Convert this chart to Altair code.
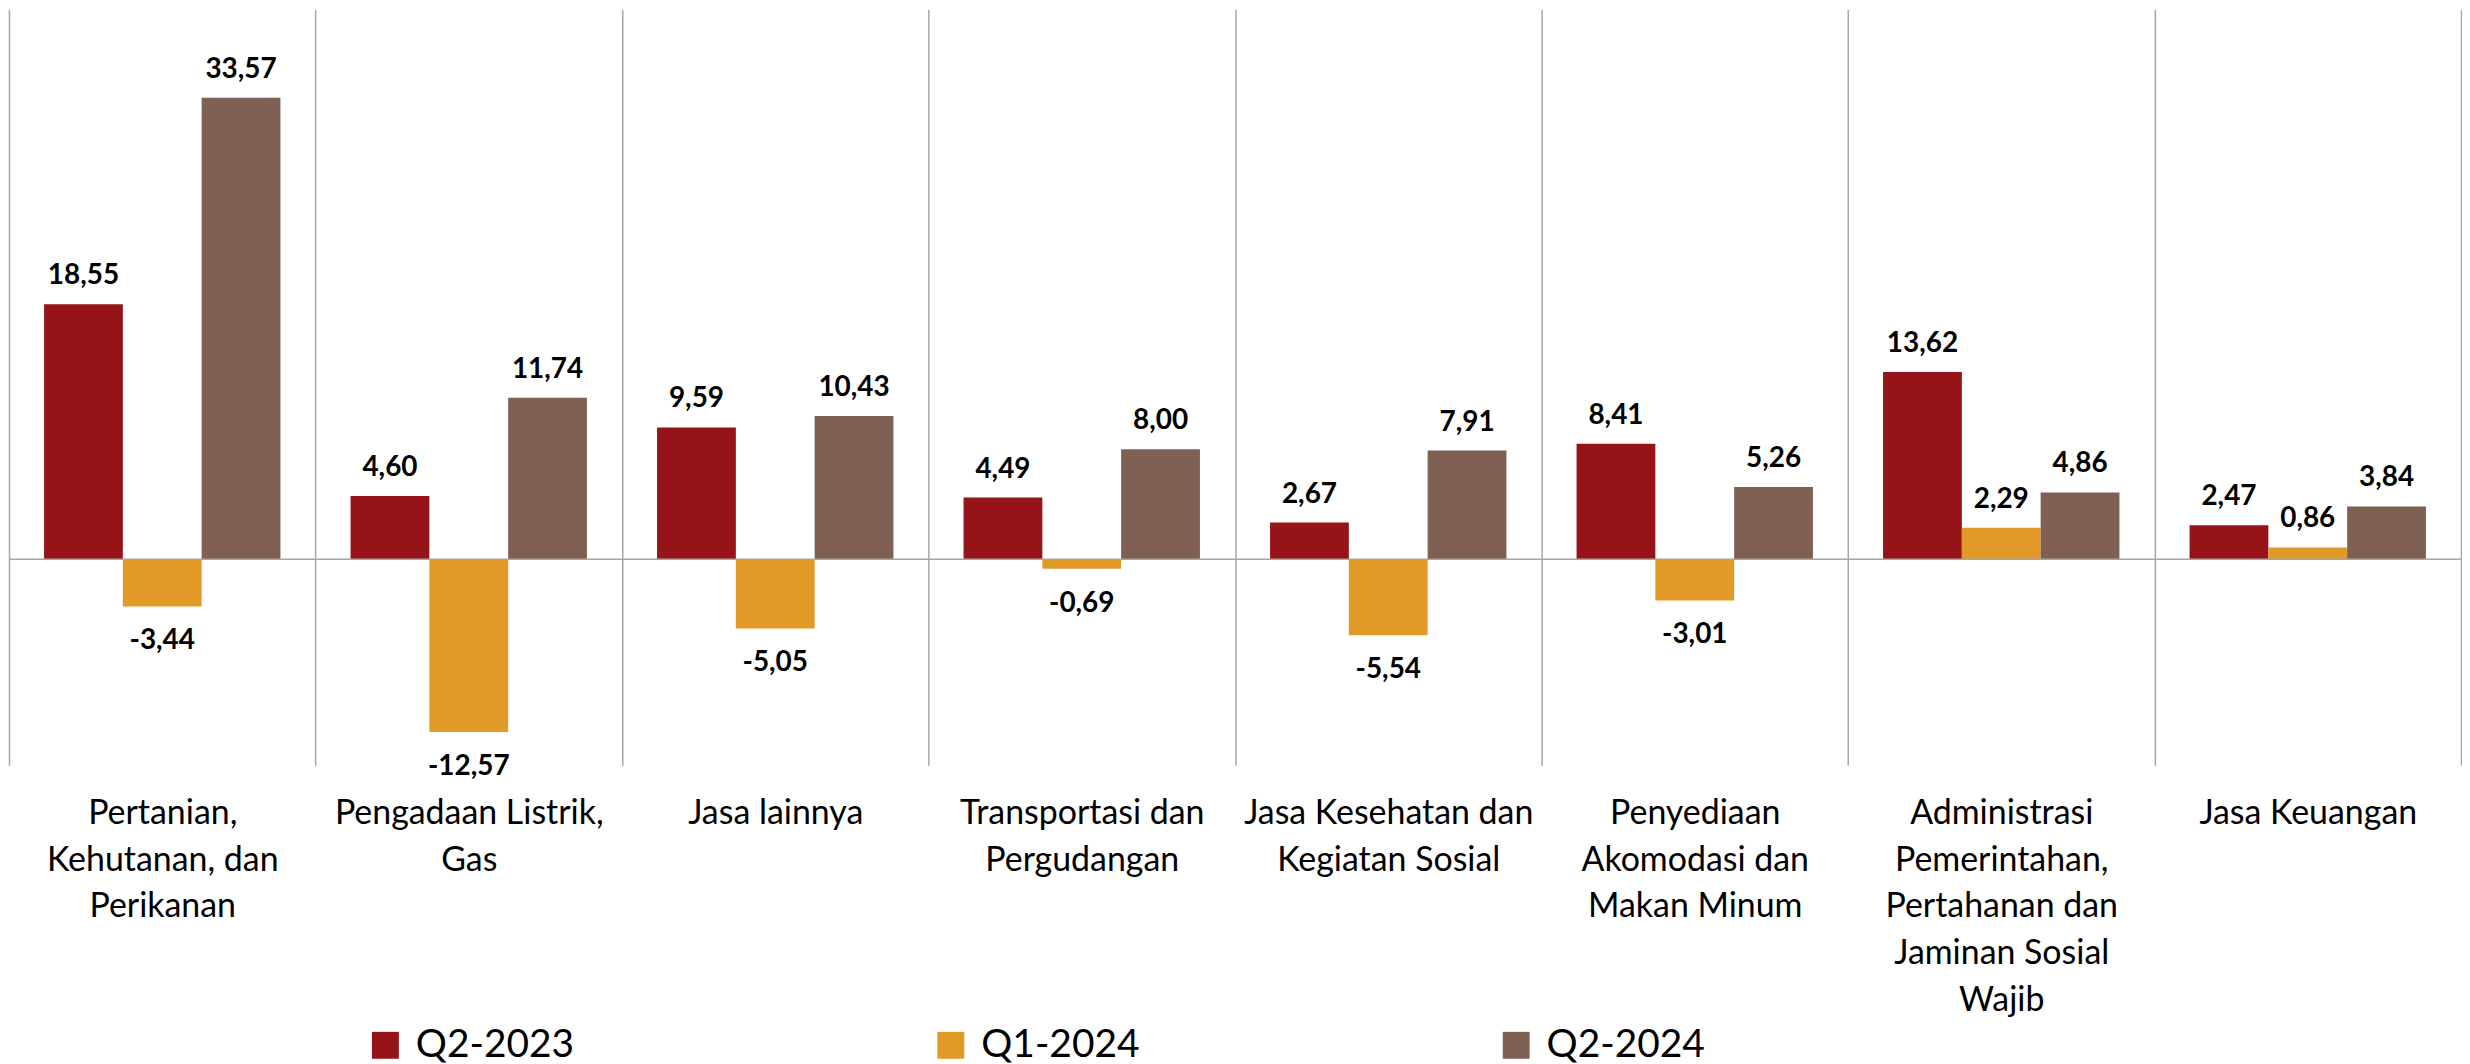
import altair as alt
import pandas as pd

categories = [
    "Pertanian,|Kehutanan, dan|Perikanan",
    "Pengadaan Listrik,|Gas",
    "Jasa lainnya",
    "Transportasi dan|Pergudangan",
    "Jasa Kesehatan dan|Kegiatan Sosial",
    "Penyediaan|Akomodasi dan|Makan Minum",
    "Administrasi|Pemerintahan,|Pertahanan dan|Jaminan Sosial|Wajib",
    "Jasa Keuangan",
]
series = ["Q2-2023", "Q1-2024", "Q2-2024"]
q2_2023 = [18.55, 4.60, 9.59, 4.49, 2.67, 8.41, 13.62, 2.47]
q1_2024 = [-3.44, -12.57, -5.05, -0.69, -5.54, -3.01, 2.29, 0.86]
q2_2024 = [33.57, 11.74, 10.43, 8.00, 7.91, 5.26, 4.86, 3.84]
colors = ["#961418", "#E19A28", "#7F6052"]

rows = []
for s, vals in zip(series, [q2_2023, q1_2024, q2_2024]):
    for c, v in zip(categories, vals):
        rows.append({"cat": c, "series": s, "value": v})
df = pd.DataFrame(rows)

FONT = "Lato"

x_enc = alt.X(
    "cat:N",
    sort=categories,
    scale=alt.Scale(paddingInner=0, paddingOuter=0),
    axis=alt.Axis(
        title=None,
        labelExpr="split(datum.label, '|')",
        grid=True,
        tickBand="extent",
        gridColor="#a6a6a6",
        gridWidth=1.5,
        domain=False,
        ticks=False,
        tickSize=0,
        labelPadding=31,
        labelFontSize=34,
        labelLineHeight=47,
        labelLimit=400,
        labelFont=FONT,
        labelColor="black",
        labelAngle=0,
        labelOverlap=False,
        labelBaseline="top",
    ),
)
xoff_enc = alt.XOffset(
    "series:N", sort=series, scale=alt.Scale(paddingInner=0, paddingOuter=0.445)
)
y_enc = alt.Y(
    "value:Q", scale=alt.Scale(domain=[-15, 40], nice=False, zero=False), axis=None
)

base = alt.Chart(df).encode(x=x_enc, xOffset=xoff_enc, y=y_enc)

bars = base.mark_bar().encode(
    color=alt.Color(
        "series:N",
        sort=series,
        scale=alt.Scale(domain=series, range=colors),
        legend=alt.Legend(
            title=None,
            orient="none",
            legendX=358,
            legendY=1019,
            direction="horizontal",
            symbolType="square",
            symbolSize=729,
            symbolStrokeWidth=0,
            symbolOpacity=1,
            labelFontSize=39,
            labelFont=FONT,
            labelColor="black",
            labelOffset=11,
            columnPadding=358,
            padding=0,
            labelLimit=400,
        ),
    )
)

labeled = base.transform_calculate(
    label="(datum.value < 0 ? '-' : '') + replace(format(abs(datum.value), '.2f'), '.', ',')"
)
pos_text = labeled.transform_filter("datum.value >= 0").mark_text(
    baseline="alphabetic", dy=-20, fontSize=28, fontWeight="bold", font=FONT, color="black"
).encode(text="label:N")
neg_text = labeled.transform_filter("datum.value < 0").mark_text(
    baseline="alphabetic", dy=43, fontSize=28, fontWeight="bold", font=FONT, color="black"
).encode(text="label:N")

zero = alt.Chart(pd.DataFrame({"zero": [0]})).mark_rule(
    color="#a6a6a6", strokeWidth=1.5
).encode(y=alt.Y("zero:Q", axis=None))

chart = (
    alt.layer(bars, zero, pos_text, neg_text)
    .properties(width=2459, height=758, padding=0, background="white")
    .configure_view(stroke=None)
)

chart.save("out.html", embed_options={"renderer": "svg", "actions": False})
